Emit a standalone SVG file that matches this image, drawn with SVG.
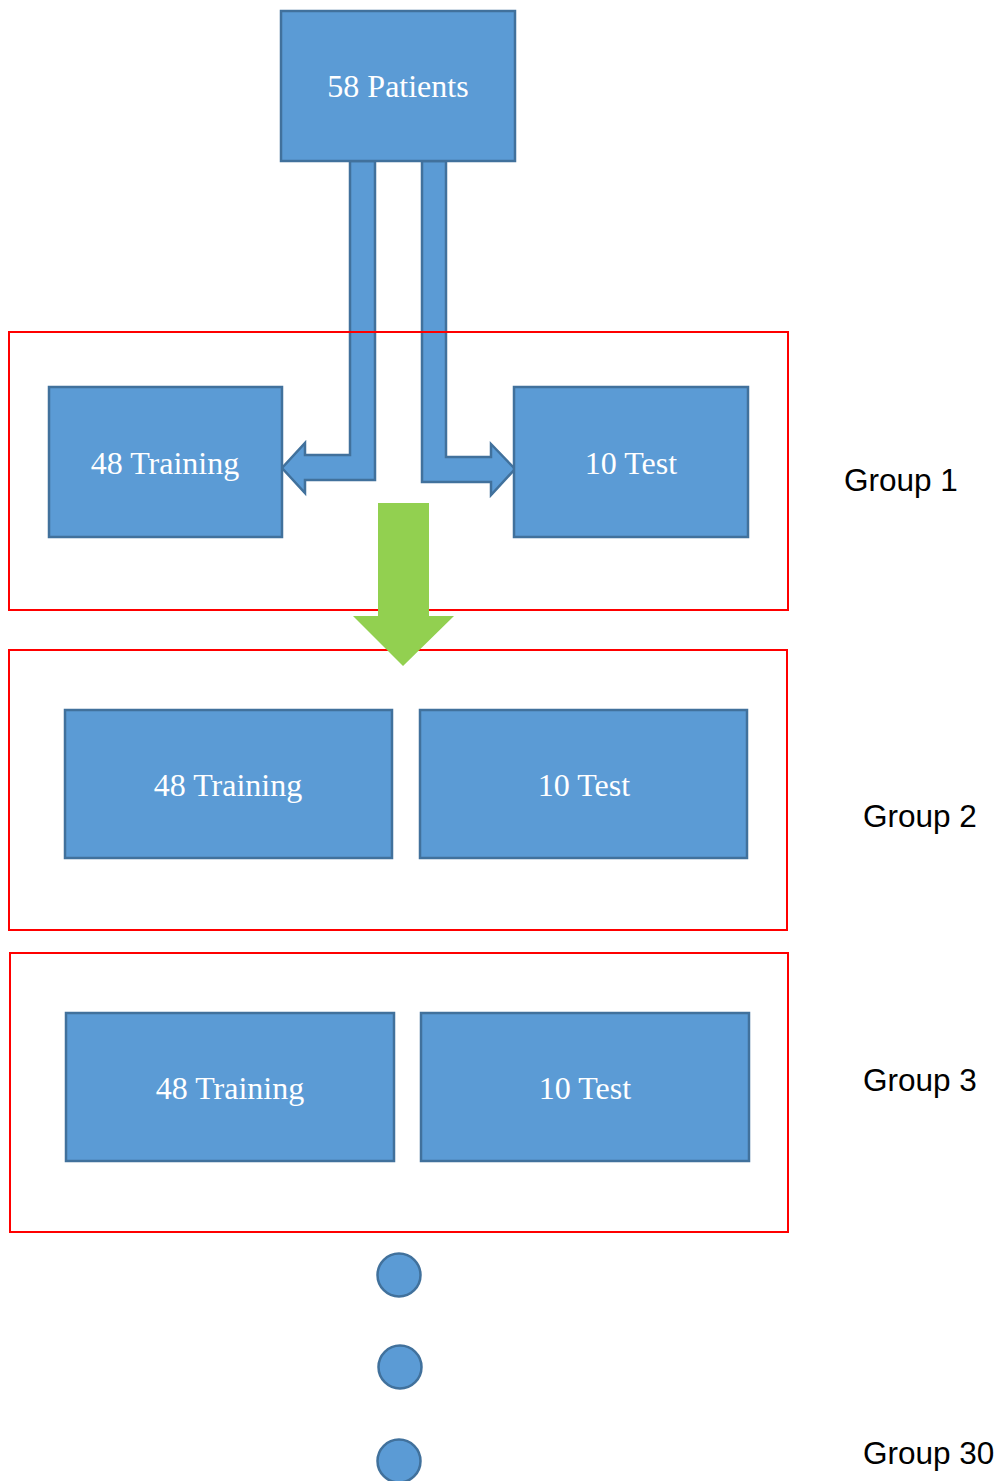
<svg xmlns="http://www.w3.org/2000/svg" width="1000" height="1481" viewBox="0 0 1000 1481">
<style>
.box{fill:#5B9BD5;stroke:#41719C;stroke-width:2.5}
.grp{fill:none;stroke:#FF0000;stroke-width:2}
.t{font-family:"Liberation Serif",serif;font-size:32px;fill:#FFFFFF;text-anchor:middle}
.lbl{font-family:"Liberation Sans",Arial,sans-serif;font-size:31.5px;fill:#000000}
.dot{fill:#5B9BD5;stroke:#41719C;stroke-width:2.5}
</style>
<rect width="1000" height="1481" fill="#FFFFFF"/>
<g id="connectors">
<polygon class="box" points="350,161 375,161 375,480 305,480 305,493 282,468 305,443 305,455 350,455"/>
<polygon class="box" points="422,161 446,161 446,457 491,457 491,444 515,469 491,495 491,482 422,482"/>
</g>
<g id="group1">
<rect class="grp" x="9" y="332" width="779" height="278"/>
<text class="lbl" x="844" y="491">Group 1</text>
</g>
<g id="patients"><rect class="box" x="281" y="11" width="234" height="150"/><text class="t" x="398" y="97">58 Patients</text></g>
<g id="g1-training"><rect class="box" x="49" y="387" width="233" height="150"/><text class="t" x="165" y="474">48 Training</text></g>
<g id="g1-test"><rect class="box" x="514" y="387" width="234" height="150"/><text class="t" x="631" y="474">10 Test</text></g>
<g id="group2">
<rect class="grp" x="9" y="650" width="778" height="280"/>
<text class="lbl" x="863" y="827">Group 2</text>
</g>
<g id="g2-training"><rect class="box" x="65" y="710" width="327" height="148"/><text class="t" x="228" y="796">48 Training</text></g>
<g id="g2-test"><rect class="box" x="420" y="710" width="327" height="148"/><text class="t" x="584" y="796">10 Test</text></g>
<g id="group3">
<rect class="grp" x="10" y="953" width="778" height="279"/>
<text class="lbl" x="863" y="1091">Group 3</text>
</g>
<g id="g3-training"><rect class="box" x="66" y="1013" width="328" height="148"/><text class="t" x="230" y="1099">48 Training</text></g>
<g id="g3-test"><rect class="box" x="421" y="1013" width="328" height="148"/><text class="t" x="585" y="1099">10 Test</text></g>
<g id="next-arrow">
<polygon fill="#92D050" points="378,503 429,503 429,616 454,616 403,666 353,616 378,616"/>
</g>
<g id="dots">
<circle class="dot" cx="399" cy="1275" r="21.5"/>
<circle class="dot" cx="400" cy="1367" r="21.5"/>
<circle class="dot" cx="399" cy="1461" r="21.5"/>
</g>
<g id="group30"><text class="lbl" x="863" y="1464">Group 30</text></g>
</svg>
